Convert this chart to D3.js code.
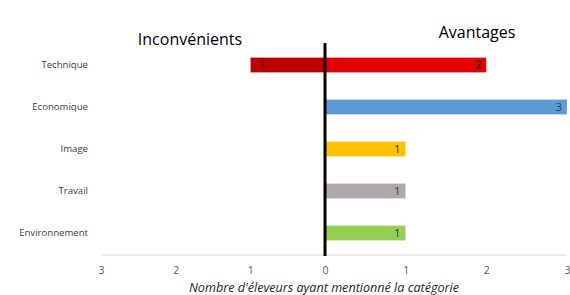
<!DOCTYPE html>
<html lang="fr">
<head>
<meta charset="utf-8">
<script src="https://d3js.org/d3.v7.min.js"></script>
<style>
  body { margin: 0; background: #fff; font-family: "Open Sans", sans-serif; }
  text { font-family: "Open Sans", sans-serif; }
</style>
</head>
<body>
<svg id="chart" width="570" height="295"></svg>
<script>
  // Données
  const categories = ["Technique", "Economique", "Image", "Travail", "Environnement"];
  const avantages = [2, 3, 1, 1, 1];
  const inconvenients = [1, 0, 0, 0, 0];
  const couleursAvantages = ["#E60000", "#5B9BD5", "#FFC000", "#AEAAAA", "#92D050"];
  const couleursInconv = ["#C00000", "#5B9BD5", "#FFC000", "#AEAAAA", "#92D050"];
  const ticks = [-3, -2, -1, 0, 1, 2, 3];

  const svg = d3.select("#chart");

  // Echelles
  const x = d3.scaleLinear().domain([-3, 0, 3]).range([101, 325, 567]);
  const y = d3.scaleBand().domain(categories).range([44, 254]).paddingInner(0.64).paddingOuter(0.32);

  // Axe du bas
  svg.append("line")
    .attr("x1", x(-3)).attr("x2", x(3))
    .attr("y1", 255).attr("y2", 255)
    .attr("stroke", "#d9d9d9").attr("stroke-width", 1);

  const xAxis = d3.axisBottom(x).tickValues(ticks).tickSize(0).tickFormat(d => Math.abs(d));
  const gx = svg.append("g").attr("transform", "translate(0,264)").call(xAxis);
  gx.select(".domain").remove();
  gx.selectAll("text").attr("font-size", 10.5).attr("fill", "#595959")
    .attr("font-family", "'Open Sans', sans-serif");

  // Catégories
  const yAxis = d3.axisLeft(y).tickSize(0).tickPadding(0);
  const gy = svg.append("g").attr("transform", "translate(88,0)").call(yAxis);
  gy.select(".domain").remove();
  gy.selectAll("text").attr("font-size", 9.6).attr("fill", "#404040")
    .attr("font-family", "'Open Sans', sans-serif");

  // Barres inconvénients
  svg.selectAll(".neg")
    .data(categories.filter((c, i) => inconvenients[i] > 0))
    .enter().append("rect")
    .attr("class", "neg")
    .attr("x", c => x(-inconvenients[categories.indexOf(c)]))
    .attr("y", c => y(c))
    .attr("width", c => x(0) - x(-inconvenients[categories.indexOf(c)]))
    .attr("height", y.bandwidth())
    .attr("fill", c => couleursInconv[categories.indexOf(c)])
    .attr("stroke", "#f4b6b6").attr("stroke-width", 0.6);

  // Barres avantages
  svg.selectAll(".pos")
    .data(categories)
    .enter().append("rect")
    .attr("class", "pos")
    .attr("x", x(0))
    .attr("y", c => y(c))
    .attr("width", (c, i) => x(avantages[i]) - x(0))
    .attr("height", y.bandwidth())
    .attr("fill", (c, i) => couleursAvantages[i])
    .attr("stroke", "#ffffff").attr("stroke-opacity", 0.5).attr("stroke-width", 0.6);

  // Etiquettes
  svg.selectAll(".lab-pos")
    .data(categories)
    .enter().append("text")
    .attr("x", (c, i) => x(avantages[i]) - 5)
    .attr("y", c => y(c) + y.bandwidth() / 2 + 4)
    .attr("text-anchor", "end")
    .attr("font-size", 11.5)
    .attr("font-weight", (c, i) => i === 0 ? "bold" : "normal")
    .attr("fill", (c, i) => i === 0 ? "#5a2020" : "#404040")
    .text((c, i) => avantages[i]);

  svg.selectAll(".lab-neg")
    .data(categories.filter((c, i) => inconvenients[i] > 0))
    .enter().append("text")
    .attr("x", c => x(-inconvenients[categories.indexOf(c)]) + 8)
    .attr("y", c => y(c) + y.bandwidth() / 2 + 4)
    .attr("font-size", 11.5)
    .attr("font-weight", "bold")
    .attr("fill", "#7a0a0a")
    .text(c => inconvenients[categories.indexOf(c)]);

  // Ligne zéro
  svg.append("line")
    .attr("x1", x(0)).attr("x2", x(0))
    .attr("y1", 43).attr("y2", 256)
    .attr("stroke", "#000").attr("stroke-width", 3);

  // Titres
  svg.append("text").attr("x", 190).attr("y", 45).attr("text-anchor", "middle")
    .attr("font-size", 16).attr("fill", "#000").text("Inconvénients");
  svg.append("text").attr("x", 477).attr("y", 38).attr("text-anchor", "middle")
    .attr("font-size", 16).attr("fill", "#000").text("Avantages");

  svg.append("text").attr("x", 324).attr("y", 292).attr("text-anchor", "middle")
    .attr("font-size", 12.6).attr("font-style", "italic").attr("fill", "#262626")
    .text("Nombre d'éleveurs ayant mentionné la catégorie");
</script>
</body>
</html>
